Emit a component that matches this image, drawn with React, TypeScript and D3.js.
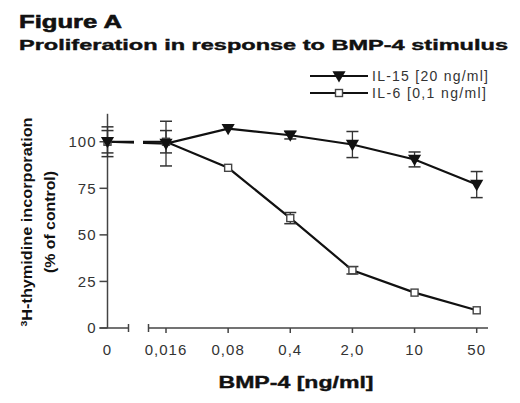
import { useRef, useEffect } from "react";
import * as d3 from "d3";

// BMP-4 doses (ng/ml); 0 is the control, drawn left of the axis break
const doses = [0, 0.016, 0.08, 0.4, 2, 10, 50];
const doseLabels = ["0", "0,016", "0,08", "0,4", "2,0", "10", "50"];

const il15Values = [100, 99, 107, 103.5, 98.5, 90.5, 77];
const il15Errors = [8, 12, 1.5, 2, 7, 4, 7];
const il6Values = [100, 100, 86, 59, 31, 19, 9.5];
const il6Errors = [6, 6, 1, 3, 2, 1, 1];

const yTicks = [0, 25, 50, 75, 100];

interface Pt {
  dose: number;
  value: number;
  error: number;
}

export default function App() {
  const svgRef = useRef<SVGSVGElement>(null);

  useEffect(() => {
    if (!svgRef.current) return;
    const svg = d3.select(svgRef.current);
    svg.selectAll("*").remove();

    const width = 520;
    const height = 403;
    const axisColor = "#444";
    const font = "'Liberation Sans', Arial, sans-serif";

    const y = d3.scaleLinear().domain([0, 115]).range([328, 113.8]);
    const x = d3.scaleLog().domain([0.016, 50]).range([166, 476.7]);
    const zeroX = 107.5;
    const xPos = (d: number) => (d === 0 ? zeroX : x(d));

    const il15: Pt[] = doses.map((d, i) => ({ dose: d, value: il15Values[i], error: il15Errors[i] }));
    const il6: Pt[] = doses.map((d, i) => ({ dose: d, value: il6Values[i], error: il6Errors[i] }));

    // Titles
    svg
      .append("text")
      .attr("x", 19)
      .attr("y", 28)
      .attr("font-family", font)
      .attr("font-weight", 900)
      .attr("font-size", "19px")
      .attr("textLength", 103)
      .attr("lengthAdjust", "spacingAndGlyphs")
      .attr("stroke", "#111")
      .attr("stroke-width", 0.6)
      .attr("fill", "#111")
      .text("Figure A");

    svg
      .append("text")
      .attr("x", 19)
      .attr("y", 50)
      .attr("font-family", font)
      .attr("font-weight", 700)
      .attr("font-size", "15px")
      .attr("textLength", 489)
      .attr("lengthAdjust", "spacingAndGlyphs")
      .attr("stroke", "#111")
      .attr("stroke-width", 0.4)
      .attr("fill", "#111")
      .text("Proliferation in response to BMP-4 stimulus");

    // Y axis
    const yAxisG = svg.append("g").attr("transform", `translate(${zeroX},0)`);
    yAxisG
      .append("line")
      .attr("y1", y(115))
      .attr("y2", y(0))
      .attr("stroke", axisColor)
      .attr("stroke-width", 1.5);
    yAxisG
      .selectAll("line.tick")
      .data(yTicks)
      .join("line")
      .attr("class", "tick")
      .attr("x1", -8)
      .attr("x2", 0)
      .attr("y1", (d) => y(d))
      .attr("y2", (d) => y(d))
      .attr("stroke", axisColor)
      .attr("stroke-width", 1.5);
    yAxisG
      .selectAll("text")
      .data(yTicks)
      .join("text")
      .attr("x", -11)
      .attr("y", (d) => y(d))
      .attr("dy", "0.36em")
      .attr("text-anchor", "end")
      .attr("font-family", font)
      .attr("font-size", "15px")
      .attr("letter-spacing", "1px")
      .attr("fill", "#333")
      .text((d) => d);

    // X axis, broken between the control and the first dose
    const xAxisG = svg.append("g").attr("transform", `translate(0,${y(0)})`);
    const segs = [
      [zeroX - 8, 128.5],
      [148.5, 488],
    ];
    segs.forEach(([a, b], i) => {
      xAxisG
        .append("line")
        .attr("x1", a)
        .attr("x2", b)
        .attr("stroke", axisColor)
        .attr("stroke-width", 1.5);
      const cap = i === 0 ? b : a;
      xAxisG
        .append("line")
        .attr("x1", cap)
        .attr("x2", cap)
        .attr("y1", -4)
        .attr("y2", 4)
        .attr("stroke", axisColor)
        .attr("stroke-width", 1.5);
    });
    xAxisG
      .selectAll("line.tick")
      .data(doses.slice(1))
      .join("line")
      .attr("class", "tick")
      .attr("x1", (d) => x(d))
      .attr("x2", (d) => x(d))
      .attr("y1", 0)
      .attr("y2", 5)
      .attr("stroke", axisColor)
      .attr("stroke-width", 1.5);
    xAxisG
      .selectAll("text")
      .data(doses)
      .join("text")
      .attr("x", (d) => xPos(d))
      .attr("y", 27)
      .attr("text-anchor", "middle")
      .attr("font-family", font)
      .attr("font-size", "15px")
      .attr("letter-spacing", "1px")
      .attr("fill", "#333")
      .text((_, i) => doseLabels[i]);

    svg
      .append("text")
      .attr("x", 296)
      .attr("y", 388)
      .attr("text-anchor", "middle")
      .attr("font-family", font)
      .attr("font-weight", 700)
      .attr("font-size", "17px")
      .attr("textLength", 155)
      .attr("lengthAdjust", "spacingAndGlyphs")
      .attr("stroke", "#111")
      .attr("stroke-width", 0.4)
      .attr("fill", "#111")
      .text("BMP-4 [ng/ml]");

    // Y label
    const yl1 = svg
      .append("text")
      .attr("transform", "rotate(-90)")
      .attr("x", -222)
      .attr("y", 32)
      .attr("text-anchor", "middle")
      .attr("font-family", font)
      .attr("font-weight", 700)
      .attr("font-size", "14px")
      .attr("textLength", 209)
      .attr("lengthAdjust", "spacingAndGlyphs")
      .attr("fill", "#111");
    yl1.append("tspan").attr("font-size", "9px").attr("baseline-shift", "super").text("3");
    yl1.append("tspan").text("H-thymidine incorporation");

    svg
      .append("text")
      .attr("transform", "rotate(-90)")
      .attr("x", -222)
      .attr("y", 55)
      .attr("text-anchor", "middle")
      .attr("font-family", font)
      .attr("font-weight", 700)
      .attr("font-size", "14px")
      .attr("textLength", 102)
      .attr("lengthAdjust", "spacingAndGlyphs")
      .attr("fill", "#111")
      .text("(% of control)");

    // clip the data lines at the axis break
    const defs = svg.append("defs");
    const clip = defs.append("clipPath").attr("id", "brk");
    clip.append("rect").attr("x", 0).attr("y", 0).attr("width", 134).attr("height", height);
    clip.append("rect").attr("x", 143).attr("y", 0).attr("width", width - 143).attr("height", height);

    const line = d3
      .line<Pt>()
      .x((d) => xPos(d.dose))
      .y((d) => y(d.value));

    const plot = svg.append("g");

    [il6, il15].forEach((series) => {
      plot
        .append("path")
        .datum(series)
        .attr("d", line)
        .attr("fill", "none")
        .attr("stroke", "#111")
        .attr("stroke-width", 2.2)
        .attr("clip-path", "url(#brk)");

      const eb = plot
        .append("g")
        .selectAll("g")
        .data(series.filter((d) => d.error > 1.5))
        .join("g");
      eb.append("line")
        .attr("x1", (d) => xPos(d.dose))
        .attr("x2", (d) => xPos(d.dose))
        .attr("y1", (d) => y(d.value - d.error))
        .attr("y2", (d) => y(d.value + d.error))
        .attr("stroke", "#333")
        .attr("stroke-width", 1.3);
      [-1, 1].forEach((s) => {
        eb.append("line")
          .attr("x1", (d) => xPos(d.dose) - 6)
          .attr("x2", (d) => xPos(d.dose) + 6)
          .attr("y1", (d) => y(d.value + s * d.error))
          .attr("y2", (d) => y(d.value + s * d.error))
          .attr("stroke", "#333")
          .attr("stroke-width", 1.5);
      });
    });

    const tri = d3.symbol().type(d3.symbolTriangle).size(75);
    const drawTri = (sel: any) =>
      sel.attr("d", tri).attr("fill", "#111");
    const drawSq = (sel: any) =>
      sel
        .attr("x", -3.5)
        .attr("y", -3.5)
        .attr("width", 7)
        .attr("height", 7)
        .attr("fill", "#fff")
        .attr("stroke", "#444")
        .attr("stroke-width", 1.4);

    plot
      .selectAll("rect.il6")
      .data(il6)
      .join("rect")
      .attr("class", "il6")
      .attr("transform", (d) => `translate(${xPos(d.dose)},${y(d.value)})`)
      .call(drawSq);

    plot
      .selectAll("path.il15")
      .data(il15)
      .join("path")
      .attr("class", "il15")
      .attr("transform", (d) => `translate(${xPos(d.dose)},${y(d.value) - 1}) rotate(180)`)
      .call(drawTri);

    // Legend
    const legend = [
      { label: "IL-15 [20 ng/ml]", kind: "tri", yy: 76, len: 116 },
      { label: "IL-6 [0,1 ng/ml]", kind: "sq", yy: 93, len: 114 },
    ];
    legend.forEach((l) => {
      const g = svg.append("g").attr("transform", `translate(0,${l.yy})`);
      g.append("line")
        .attr("x1", 310)
        .attr("x2", 368)
        .attr("stroke", "#111")
        .attr("stroke-width", 2.2);
      if (l.kind === "tri") {
        g.append("path").attr("transform", "translate(339,-1) rotate(180)").call(drawTri);
      } else {
        g.append("rect").attr("transform", "translate(339,0)").call(drawSq);
      }
      g.append("text")
        .attr("x", 372)
        .attr("y", 0)
        .attr("dy", "0.36em")
        .attr("font-family", font)
        .attr("font-size", "14px")
        .attr("textLength", l.len)
        .attr("fill", "#333")
        .text(l.label);
    });
  }, []);

  return (
    <svg
      ref={svgRef}
      width={520}
      height={403}
      style={{ position: "absolute", left: 0, top: 0, background: "#fff" }}
    />
  );
}
